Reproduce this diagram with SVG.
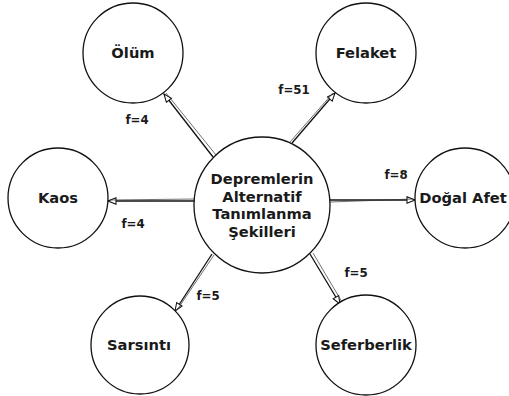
<svg xmlns="http://www.w3.org/2000/svg" width="509" height="396" viewBox="0 0 509 396">
<style>
.n{fill:#fff;stroke:#111;stroke-width:1.3}
.t{font-family:"DejaVu Sans",Verdana,sans-serif;font-weight:bold;font-size:14.7px;fill:#1a1a1a;text-anchor:middle}
.l{font-family:"DejaVu Sans",Verdana,sans-serif;font-weight:bold;font-size:11.8px;fill:#1a1a1a;text-anchor:middle}
.c{stroke:#111;stroke-width:1.3;fill:none}
.c2{stroke:#333;stroke-width:0.7;fill:none}
</style>
<defs>
<marker id="ah" viewBox="0 0 12 10" refX="11" refY="5" markerWidth="10" markerHeight="8" markerUnits="userSpaceOnUse" orient="auto">
<path d="M1,1 L11,5 L1,9 z" fill="#fff" stroke="#111" stroke-width="1.3"/>
</marker>
</defs>
<rect width="509" height="396" fill="#fff"/>
<g id="connectors">
<line class="c" x1="213" y1="157" x2="164" y2="94" marker-end="url(#ah)"/>
<line class="c2" x1="216" y1="155" x2="166" y2="93"/>
<line class="c" x1="292" y1="143" x2="335" y2="93" marker-end="url(#ah)"/>
<line class="c2" x1="290" y1="142" x2="333" y2="93"/>
<line class="c" x1="195" y1="201" x2="108" y2="201" marker-end="url(#ah)"/>
<line class="c2" x1="195" y1="199" x2="110" y2="200"/>
<line class="c" x1="330" y1="200" x2="415" y2="200" marker-end="url(#ah)"/>
<line class="c2" x1="330" y1="202" x2="413" y2="199"/>
<line class="c" x1="212" y1="254" x2="175" y2="311" marker-end="url(#ah)"/>
<line class="c2" x1="214" y1="255" x2="177" y2="310"/>
<line class="c" x1="310" y1="254" x2="340" y2="304" marker-end="url(#ah)"/>
<line class="c2" x1="313" y1="253" x2="342" y2="302"/>
</g>
<g id="n-center"><circle class="n" cx="262" cy="205" r="68"/>
<text class="t" x="262" y="184">Depremlerin</text>
<text class="t" x="262" y="202">Alternatif</text>
<text class="t" x="262" y="219">Tanımlanma</text>
<text class="t" x="262" y="237">Şekilleri</text></g>
<g id="n-olum"><circle class="n" cx="133" cy="53" r="50"/><text class="t" x="133" y="58">Ölüm</text></g>
<g id="n-felaket"><circle class="n" cx="366" cy="53" r="50"/><text class="t" x="366" y="58">Felaket</text></g>
<g id="n-kaos"><circle class="n" cx="58" cy="198" r="50"/><text class="t" x="58" y="203">Kaos</text></g>
<g id="n-dogal"><circle class="n" cx="465" cy="198" r="50"/><text class="t" x="463" y="203">Doğal Afet</text></g>
<g id="n-sarsinti"><circle class="n" cx="140" cy="345" r="49"/><text class="t" x="139" y="350">Sarsıntı</text></g>
<g id="n-seferberlik"><circle class="n" cx="366" cy="345" r="50"/><text class="t" x="366" y="350">Seferberlik</text></g>
<g id="labels">
<text class="l" x="294" y="94">f=51</text>
<text class="l" x="137" y="124">f=4</text>
<text class="l" x="396" y="179">f=8</text>
<text class="l" x="133" y="228">f=4</text>
<text class="l" x="356" y="277">f=5</text>
<text class="l" x="208" y="300">f=5</text>
</g>
</svg>
